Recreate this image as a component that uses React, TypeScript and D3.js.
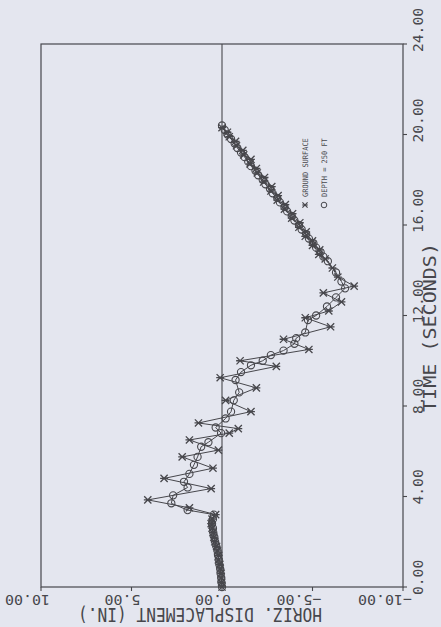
import React from "react";
import * as d3 from "d3";

// ground surface record (asterisks)
const groundTime = [
  0.0, 0.2, 0.4, 0.6, 0.8, 1.0, 1.2, 1.4, 1.6, 1.8, 2.0, 2.2, 2.4, 2.6, 2.8, 3.0, 3.2,
  3.5, 3.85, 4.35, 4.8, 5.25, 5.75, 6.05, 6.5, 6.8, 7.0, 7.25, 7.75, 8.25, 8.8, 9.25, 9.75,
  10.0, 10.5, 10.95, 11.5, 11.9, 12.2, 12.6, 13.0, 13.3, 13.7, 14.1,
  14.5, 14.7, 14.9, 15.1, 15.3, 15.5, 15.7, 15.9, 16.1, 16.3, 16.5, 16.7, 16.9, 17.1, 17.3,
  17.5, 17.7, 17.9, 18.1, 18.3, 18.5, 18.7, 18.9, 19.1, 19.3, 19.5, 19.7, 19.9, 20.1, 20.3,
];
const groundDisp = [
  0.0, 0.02, 0.05, 0.05, 0.1, 0.12, 0.2, 0.18, 0.25, 0.3, 0.4, 0.45, 0.5, 0.55, 0.6, 0.55, 0.35,
  1.8, 4.1, 0.6, 3.2, 0.5, 2.2, 0.2, 1.8, -0.4, -0.9, 1.3, -1.6, -0.2, -1.9, 0.1, -3.0,
  -1.0, -4.8, -3.4, -6.0, -4.6, -5.9, -6.6, -5.6, -7.3, -6.4, -6.1,
  -5.7, -5.35, -5.4, -5.0, -5.0, -4.6, -4.65, -4.25, -4.3, -3.85, -3.9, -3.45, -3.5, -3.05, -3.1,
  -2.7, -2.75, -2.3, -2.35, -1.95, -1.9, -1.55, -1.6, -1.2, -1.15, -0.8, -0.75, -0.4, -0.3, 0.0,
];

// depth = 250 ft record (circles)
const depthTime = [
  0.0, 0.2, 0.4, 0.6, 0.8, 1.0, 1.2, 1.4, 1.6, 1.8, 2.0, 2.2, 2.4, 2.6, 2.8, 3.0, 3.2,
  3.4, 3.7, 4.05, 4.4, 4.65, 5.0, 5.4, 5.75, 6.2, 6.4, 6.8, 7.05, 7.45, 7.75, 8.25, 8.6,
  9.15, 9.5, 9.8, 10.0, 10.25, 10.45, 10.75, 11.0, 11.25, 11.8, 12.0, 12.4, 12.8, 13.2, 13.5, 13.9,
  14.4, 14.6, 14.8, 15.0, 15.2, 15.4, 15.6, 15.8, 16.0, 16.2, 16.4, 16.6, 16.8, 17.0, 17.2, 17.4,
  17.6, 17.8, 18.0, 18.2, 18.4, 18.6, 18.8, 19.0, 19.2, 19.4, 19.6, 19.8, 20.0, 20.2, 20.4,
];
const depthDisp = [
  0.0, 0.03, 0.04, 0.08, 0.1, 0.15, 0.18, 0.22, 0.25, 0.32, 0.38, 0.42, 0.48, 0.5, 0.55, 0.5, 0.45,
  1.9, 2.8, 2.7, 1.9, 2.1, 1.8, 1.55, 1.35, 1.15, 0.75, 0.05, 0.35, -0.2, -0.5, -0.65, -0.95,
  -0.75, -1.05, -1.6, -2.25, -2.7, -3.4, -4.0, -4.1, -4.6, -4.75, -5.2, -5.8, -6.3, -6.8, -6.6, -6.3,
  -5.85, -5.6, -5.45, -5.2, -5.05, -4.8, -4.65, -4.4, -4.25, -4.0, -3.85, -3.6, -3.45, -3.2, -3.05, -2.8,
  -2.65, -2.4, -2.25, -2.0, -1.85, -1.6, -1.45, -1.25, -1.05, -0.85, -0.7, -0.5, -0.3, -0.15, 0.0,
];

const timeTicks = [0, 4, 8, 12, 16, 20, 24];
const dispTicks = [10, 5, 0, -5, -10];
const legendLabels = ["GROUND SURFACE", "DEPTH = 250 FT"];
const dispTitle = "HORIZ. DISPLACEMENT (IN.)";
const timeTitle = "TIME (SECONDS)";

const W = 441;
const H = 627;
const ink = "#47474c";
const paper = "#e4e6ef";
const mono = "'DejaVu Sans Mono', monospace";

const Asterisk = ({ x, y, s = 3.6, w = 1.3 }: { x: number; y: number; s?: number; w?: number }) => (
  <path
    d={`M${x - s},${y - s}L${x + s},${y + s}M${x - s},${y + s}L${x + s},${y - s}M${x - s * 1.1},${y}L${x + s * 1.1},${y}`}
    stroke={ink}
    strokeWidth={w}
    fill="none"
  />
);

export default function App() {
  // displacement runs right-to-left, time runs bottom-to-top (plot is turned on its side)
  const x = d3.scaleLinear().domain([10, -10]).range([41, 403]);
  const y = d3.scaleLinear().domain([0, 24]).range([587, 44]);
  const fmt = d3.format(".2f");

  const ground = groundTime.map((t, i) => ({ t, d: groundDisp[i] }));
  const depth = depthTime.map((t, i) => ({ t, d: depthDisp[i] }));
  const line = d3
    .line<{ t: number; d: number }>()
    .x((p) => x(p.d))
    .y((p) => y(p.t));

  const [x0, x1] = x.range();
  const [y0, y1] = y.range();

  // legend sits in the upper right, clear of the returning trace
  const legX = 305;
  const legY = 205;

  return (
    <svg
      width={W}
      height={H}
      style={{ position: "absolute", left: 0, top: 0, display: "block", background: paper }}
    >
      <rect x={0} y={0} width={W} height={H} fill={paper} />

      {/* frame */}
      <rect x={x0} y={y1} width={x1 - x0} height={y0 - y1} fill="none" stroke={ink} strokeWidth={1.2} />
      {/* zero line */}
      <line x1={x(0)} x2={x(0)} y1={y1} y2={y0} stroke={ink} strokeWidth={1.1} />

      {/* time axis (right side) */}
      {timeTicks.map((t) => (
        <g key={`tt${t}`}>
          <line x1={x1} x2={x1 + 4} y1={y(t)} y2={y(t)} stroke={ink} strokeWidth={1.1} />
          <text
            transform={`translate(${x1 + 20},${y(t) + 8}) rotate(-90)`}
            fontFamily={mono}
            fontSize={14}
            fill={ink}
            textLength={fmt(t).length * 8.8}
            lengthAdjust="spacingAndGlyphs"
          >
            {fmt(t)}
          </text>
        </g>
      ))}
      <text
        transform={`translate(${436},${(243 + 412) / 2}) rotate(-90)`}
        textAnchor="middle"
        fontFamily={mono}
        fontSize={18}
        fill={ink}
        textLength={169}
        lengthAdjust="spacingAndGlyphs"
      >
        {timeTitle}
      </text>

      {/* displacement axis (bottom) */}
      {dispTicks.map((d) => (
        <g key={`dt${d}`}>
          <line x1={x(d)} x2={x(d)} y1={y0} y2={y0 + 4} stroke={ink} strokeWidth={1.1} />
          <text
            transform={`translate(${x(d) + 9},${y0 + 8}) rotate(180)`}
            fontFamily={mono}
            fontSize={14}
            fill={ink}
            textLength={fmt(d).length * 9}
            lengthAdjust="spacingAndGlyphs"
          >
            {fmt(d)}
          </text>
        </g>
      ))}
      <text
        transform={`translate(${200},${608}) rotate(180)`}
        textAnchor="middle"
        fontFamily={mono}
        fontSize={19}
        fill={ink}
        textLength={244}
        lengthAdjust="spacingAndGlyphs"
      >
        {dispTitle}
      </text>

      {/* series lines */}
      <path d={line(ground) ?? ""} fill="none" stroke={ink} strokeWidth={1} />
      <path d={line(depth) ?? ""} fill="none" stroke={ink} strokeWidth={1} />

      {/* markers */}
      {depth.map((p, i) => (
        <circle key={`c${i}`} cx={x(p.d)} cy={y(p.t)} r={3.6} fill="none" stroke={ink} strokeWidth={1.1} />
      ))}
      {ground.map((p, i) => (
        <Asterisk key={`a${i}`} x={x(p.d)} y={y(p.t)} />
      ))}

      {/* legend */}
      <g>
        <Asterisk x={legX} y={legY} s={2.6} w={1.2} />
        <circle cx={legX + 19} cy={legY} r={2.8} fill="none" stroke={ink} strokeWidth={1} />
        {legendLabels.map((lab, i) => (
          <text
            key={lab}
            transform={`translate(${legX + i * 19 + 2.8},${legY - 8}) rotate(-90)`}
            fontFamily={mono}
            fontSize={7.5}
            fill={ink}
            textLength={lab.length * 4.2}
            lengthAdjust="spacingAndGlyphs"
          >
            {lab}
          </text>
        ))}
      </g>
    </svg>
  );
}
